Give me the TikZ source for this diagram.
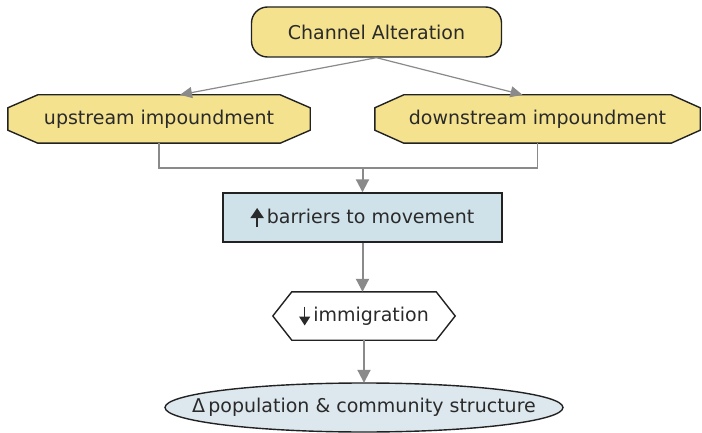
\documentclass[tikz,border=0pt]{standalone}
\usepackage{fontspec}
\setmainfont{DejaVu Sans}
\usetikzlibrary{shapes.geometric,arrows.meta,backgrounds,calc}
\definecolor{yel}{HTML}{F4E28E}
\definecolor{blu}{HTML}{CFE2EA}
\definecolor{ell}{HTML}{DDE8EE}
\definecolor{edge}{HTML}{222222}
\definecolor{conn}{HTML}{8A8A8A}
\definecolor{txt}{HTML}{2A2A2A}
\newcommand\octpath[4]{%
  \path[#4] ($(#1.north west)+(#2,0)$) -- ($(#1.north east)+(-#2,0)$) -- ($(#1.north east)+(0,#3)$) -- ($(#1.south east)+(0,-#3)$) -- ($(#1.south east)+(-#2,0)$) -- ($(#1.south west)+(#2,0)$) -- ($(#1.south west)+(0,-#3)$) -- ($(#1.north west)+(0,#3)$) -- cycle;}
\newcommand\hexpath[3]{%
  \path[#3] ($(#1.north west)+(#2,0)$) -- ($(#1.north east)+(-#2,0)$) -- (#1.east) -- ($(#1.south east)+(-#2,0)$) -- ($(#1.south west)+(#2,0)$) -- (#1.west) -- cycle;}
\newcommand\uparr{\tikz[baseline=0pt]\draw[line width=1.8pt,-{Triangle[length=10pt,width=13pt]}] (0pt,-4pt) -- (0pt,15pt);}
\newcommand\downarr{\tikz[baseline=0pt]\draw[line width=1.5pt,-{Triangle[length=9pt,width=11pt]}] (0pt,15pt) -- (0pt,-4pt);}
\begin{document}
\begin{tikzpicture}[x=1pt,y=-1pt,
  every node/.style={font=\fontsize{19}{22}\selectfont, text=txt, inner sep=0pt},
  boxnode/.style={rectangle, minimum width=#1},
  outline/.style={draw=edge, line width=1.4pt},
  arr/.style={draw=conn, line width=2pt, -{Triangle[length=13pt,width=13pt]}},
  thinarr/.style={draw=conn, line width=1.2pt, -{Triangle[length=12pt,width=11pt]}},
  joinline/.style={draw=conn, line width=1.2pt}]
\useasboundingbox (0,0) rectangle (702,433);

\node[boxnode=250, minimum height=50, rounded corners=16, fill=yel, outline] (chan) at (376.5,32) {Channel Alteration};
\node[boxnode=302, minimum height=48] (up) at (159,119) {upstream impoundment};
\node[boxnode=325, minimum height=48] (down) at (537.5,119) {downstream impoundment};
\node[boxnode=279, minimum height=49, fill=blu, outline] (bar) at (362.5,217.5) {\uparr\,barriers to movement\hspace{20pt}};
\node[boxnode=182, minimum height=48] (imm) at (364,316) {\downarr\,immigration\hspace{20pt}};
\node[boxnode=398, minimum height=49] (pop) at (364,407.5) {Δ\,population \& community structure\hspace{18pt}};

\begin{pgfonlayer}{background}
\fill[white] (0,0) rectangle (702,433);
\octpath{up}{30}{13}{fill=yel, outline}
\octpath{down}{29}{13}{fill=yel, outline}
\hexpath{imm}{19}{fill=white, outline}
\path[fill=ell, outline] (pop.center) ellipse [x radius=199, y radius=24.5];
\end{pgfonlayer}

\coordinate (join) at (bar.north |- 0,168);
\draw[thinarr] (chan.south) -- ($(up.north)+(21,0)$);
\draw[thinarr] (chan.south) -- ($(down.north)+(-15,0)$);
\draw[joinline] (up.south) |- (join) -| (down.south);
\draw[arr] (join) -- (bar.north);
\draw[arr] (bar.south) -- (bar.south |- imm.north);
\draw[arr] (imm.south) -- (imm.south |- pop.north);
\end{tikzpicture}
\end{document}
